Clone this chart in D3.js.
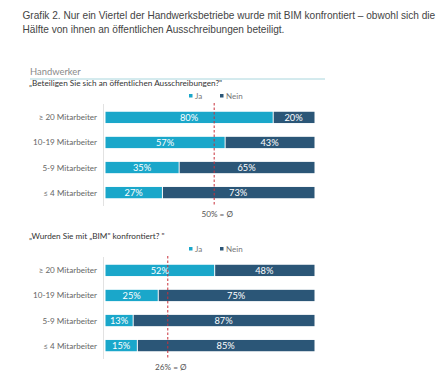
<!DOCTYPE html>
<html><head><meta charset="utf-8">
<script src="https://cdn.jsdelivr.net/npm/d3@7"></script>
<style>body{margin:0;background:#fff}svg{display:block}</style>
</head><body>
<script>
const titleLines = ["Grafik 2. Nur ein Viertel der Handwerksbetriebe wurde mit BIM konfrontiert – obwohl sich die",
                    "Hälfte von ihnen an öffentlichen Ausschreibungen beteiligt."];
const sectionTitle = "Handwerker";
const categories = ["≥ 20 Mitarbeiter", "10-19 Mitarbeiter", "5-9 Mitarbeiter", "≤ 4 Mitarbeiter"];
const seriesNames = ["Ja", "Nein"];
const questions = ["„Beteiligen Sie sich an öffentlichen Ausschreibungen?\"", "„Wurden Sie mit „BIM\" konfrontiert? \""];
const jaQ1 = [80, 57, 35, 27];
const neinQ1 = [20, 43, 65, 73];
const jaQ2 = [52, 25, 13, 15];
const neinQ2 = [48, 75, 87, 85];
const avgLabels = ["50% = Ø", "26% = Ø"];
const avgLinePos = [52, 29.8];

const W = 448, H = 383;
const colors = {Ja: "#1aa7ca", Nein: "#2b5677"};
const svg = d3.select("body").append("svg").attr("width", W).attr("height", H);

svg.selectAll("text.title").data(titleLines).enter().append("text")
  .attr("x", 22.5).attr("y", (d,i) => 19 + i*13.5)
  .attr("font-family", "Liberation Sans, Arial, sans-serif").attr("font-size", 10.1)
  .attr("fill", "#444").text(d => d);

svg.append("text").attr("x", 30).attr("y", 75).attr("font-family", "Lato, sans-serif")
  .attr("font-size", 9.4).attr("fill", "#8a8a8a").text(sectionTitle);
svg.append("line").attr("x1", 30).attr("x2", 325).attr("y1", 79).attr("y2", 79)
  .attr("stroke", "#a9d6dd").attr("stroke-width", 1);

const x = d3.scaleLinear().domain([0, 100]).range([105.5, 314.5]);

function panel(top, qi, ja, nein) {
  const g = svg.append("g");
  g.append("text").attr("x", 29).attr("y", top).attr("font-family", "Lato, sans-serif")
    .attr("font-size", 8.2).attr("fill", "#333").text(questions[qi]);
  // legend
  const leg = g.selectAll("g.leg").data(seriesNames).enter().append("g")
    .attr("transform", (d,i) => `translate(${i===0?189:220},${top+10})`);
  leg.append("rect").attr("x", 0).attr("y", -2).attr("width", 3.5).attr("height", 3.5)
    .attr("fill", d => colors[d]);
  leg.append("text").attr("x", 6).attr("y", 2.8).attr("font-family", "Lato, sans-serif")
    .attr("font-size", 8).attr("fill", "#777").text(d => d);

  const y = d3.scaleBand().domain(categories).range([top+19, top+119]).paddingInner(0.55).paddingOuter(0.27);
  g.append("line").attr("x1", 103.5).attr("x2", 103.5).attr("y1", top+18).attr("y2", top+120)
    .attr("stroke", "#e2e2e2");
  g.selectAll("text.cat").data(categories).enter().append("text")
    .attr("x", 97).attr("y", d => y(d) + y.bandwidth()/2 + 3)
    .attr("text-anchor", "end").attr("font-family", "Lato, sans-serif").attr("font-size", 8.1)
    .attr("fill", "#666").text(d => d);

  const rows = categories.map((c,i) => ({c, ja: ja[i], nein: nein[i]}));
  const stack = d3.stack().keys(["ja","nein"])(rows);
  stack.forEach((layer, li) => {
    const col = li === 0 ? colors.Ja : colors.Nein;
    g.selectAll(null).data(layer).enter().append("rect")
      .attr("x", d => x(d[0]) + (li===1?1:0))
      .attr("y", d => y(d.data.c))
      .attr("width", d => x(d[1]) - x(d[0]) - (li===1?1:0))
      .attr("height", y.bandwidth())
      .attr("fill", col);
    g.selectAll(null).data(layer).enter().append("text")
      .attr("x", d => (x(d[0]) + x(d[1]))/2)
      .attr("y", d => y(d.data.c) + y.bandwidth()/2 + 3.5)
      .attr("text-anchor", "middle").attr("font-family", "Lato, sans-serif")
      .attr("font-size", 9.3).attr("fill", "#fff")
      .text(d => (d[1]-d[0]) + "%");
  });
  const lx = x(avgLinePos[qi]);
  g.append("line").attr("x1", lx).attr("x2", lx).attr("y1", top+17).attr("y2", top+120)
    .attr("stroke", "#c9303a").attr("stroke-width", 1).attr("stroke-dasharray", "2.5,2");
  g.append("text").attr("x", lx + 3).attr("y", top + 131).attr("text-anchor", "middle")
    .attr("font-family", "Lato, sans-serif").attr("font-size", 8.2).attr("fill", "#555")
    .text(avgLabels[qi]);
}
panel(86, 0, jaQ1, neinQ1);
panel(239, 1, jaQ2, neinQ2);
</script>
</body></html>
